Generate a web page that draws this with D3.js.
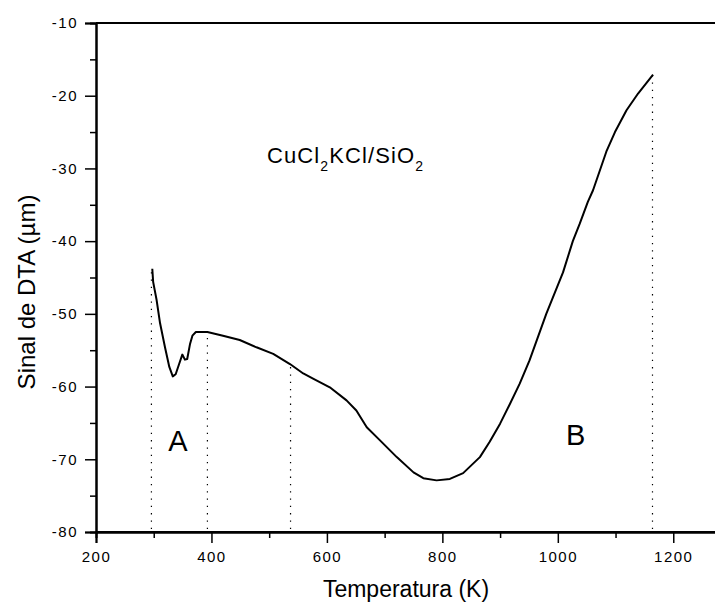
<!DOCTYPE html>
<html>
<head>
<meta charset="utf-8">
<script src="https://cdn.jsdelivr.net/npm/d3@7"></script>
<style>
  body { margin: 0; background: #fff; }
  svg { display: block; font-family: "Liberation Sans", Arial, sans-serif; }
</style>
</head>
<body>
<div id="chart"></div>
<script>
// data
const temps = [297.5, 299, 305, 311, 319.5, 327, 333, 338, 344, 349.5, 354, 358, 363, 367, 373,
  393, 420, 449, 478, 507, 536, 559, 576, 605, 634, 651, 669, 692, 721, 750, 767, 790, 813,
  836, 865, 882, 900, 917, 934, 951, 980, 1009, 1026, 1038, 1052, 1061, 1084, 1099, 1119,
  1139, 1165];
const signal = [-43.8, -45.6, -48.1, -51.3, -54.6, -57.3, -58.6, -58.3, -56.9, -55.6, -56.3,
  -56.2, -54.1, -53.0, -52.5, -52.5, -53.0, -53.6, -54.6, -55.5, -56.9, -58.2, -58.9, -60.1,
  -61.9, -63.3, -65.6, -67.4, -69.7, -71.8, -72.6, -72.9, -72.7, -71.9, -69.7, -67.6, -65.1,
  -62.4, -59.6, -56.4, -50.0, -44.3, -40.0, -37.6, -34.6, -33.0, -27.7, -25.0, -22.0, -19.7,
  -17.1];
const markers = [296, 393, 537, 1164]; // dotted verticals
const xTicks = [200, 400, 600, 800, 1000, 1200];
const xMinor = [300, 500, 700, 900, 1100];
const yTicks = [-10, -20, -30, -40, -50, -60, -70, -80];
const yMinor = [-15, -25, -35, -45, -55, -65, -75];

const WIDTH = 715, HEIGHT = 607;
const svg = d3.select("#chart").append("svg")
  .attr("width", WIDTH).attr("height", HEIGHT);

const x = d3.scaleLinear().domain([200, 1300]).range([96, 731]);
const y = d3.scaleLinear().domain([-80, -10]).range([532, 23]);

// top frame line running off to the right
svg.append("line").attr("x1", x(200)).attr("x2", WIDTH).attr("y1", y(-10)).attr("y2", y(-10))
  .attr("stroke", "#000").attr("stroke-width", 2);

// axes
svg.append("g").attr("transform", `translate(0,${y(-80)})`)
  .call(d3.axisBottom(x).tickValues(xTicks).tickSize(11).tickPadding(8).tickFormat(d3.format("d")));
svg.append("g").attr("transform", `translate(0,${y(-80)})`)
  .call(d3.axisBottom(x).tickValues(xMinor).tickSize(6).tickFormat(""));
svg.append("g").attr("transform", `translate(${x(200)},0)`)
  .call(d3.axisLeft(y).tickValues(yTicks).tickSize(11).tickPadding(7).tickFormat(d => "-" + Math.abs(d)));
svg.append("g").attr("transform", `translate(${x(200)},0)`)
  .call(d3.axisLeft(y).tickValues(yMinor).tickSize(6).tickFormat(""));

svg.selectAll(".domain").attr("stroke-width", 2);
svg.selectAll(".tick line").attr("stroke-width", 1.5);
svg.selectAll(".tick text").attr("font-size", 15).attr("letter-spacing", 1.5)
  .attr("fill", "#000").style("font-family", "Liberation Sans, Arial, sans-serif");
// extend bottom axis to the edge
svg.append("line").attr("x1", x(200)).attr("x2", WIDTH).attr("y1", y(-80)).attr("y2", y(-80))
  .attr("stroke", "#000").attr("stroke-width", 2);

// dotted markers from the bottom to the curve
const points = temps.map((t, i) => [t, signal[i]]);
function valueAt(t) {
  if (t <= temps[0]) return signal[0];
  const i = d3.bisectLeft(temps, t);
  if (i >= temps.length) return signal[signal.length - 1];
  const f = (t - temps[i - 1]) / (temps[i] - temps[i - 1]);
  return signal[i - 1] + f * (signal[i] - signal[i - 1]);
}
svg.selectAll(".marker").data(markers).enter().append("line")
  .attr("class", "marker")
  .attr("x1", d => x(d)).attr("x2", d => x(d))
  .attr("y1", y(-80) - 3).attr("y2", d => y(valueAt(d)))
  .attr("stroke", "#000").attr("stroke-width", 1.2)
  .attr("stroke-dasharray", "1.3,6");

// curve
const line = d3.line().x(d => x(d[0])).y(d => y(d[1]));
svg.append("path").datum(points).attr("d", line)
  .attr("fill", "none").attr("stroke", "#000").attr("stroke-width", 2)
  .attr("stroke-linejoin", "round");

// labels
svg.append("text").attr("x", x(342)).attr("y", y(-68.8)).attr("text-anchor", "middle")
  .attr("font-size", 29).text("A");
svg.append("text").attr("x", x(1031)).attr("y", y(-68.1)).attr("text-anchor", "middle")
  .attr("font-size", 29).text("B");

const title = svg.append("text").attr("x", 267).attr("y", 163).attr("font-size", 22)
  .attr("letter-spacing", 1.1);
title.append("tspan").text("CuCl");
title.append("tspan").attr("font-size", 14).attr("dy", 8).text("2");
title.append("tspan").attr("dy", -8).text("KCl/SiO");
title.append("tspan").attr("font-size", 14).attr("dy", 8).text("2");

svg.append("text").attr("x", 406).attr("y", 597).attr("text-anchor", "middle")
  .attr("font-size", 23).text("Temperatura (K)");
svg.append("text").attr("transform", "translate(35,292) rotate(-90)")
  .attr("text-anchor", "middle").attr("font-size", 24).text("Sinal de DTA (\u00b5m)");
</script>
</body>
</html>
